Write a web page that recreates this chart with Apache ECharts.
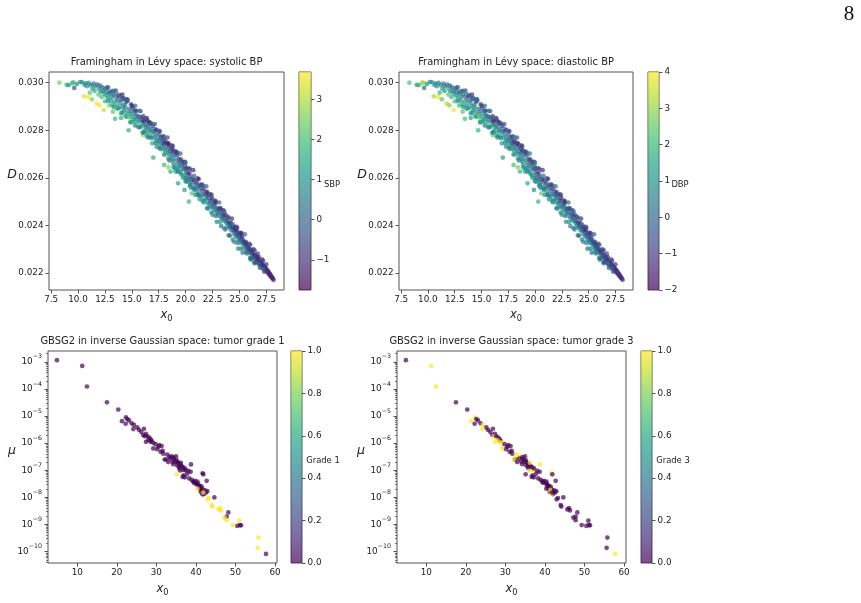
<!DOCTYPE html>
<html>
<head>
<meta charset="utf-8">
<title>Framingham / GBSG2 latent space</title>
<script src="https://cdn.jsdelivr.net/npm/echarts@6/dist/echarts.min.js"></script>
<style>
  html, body { margin: 0; padding: 0; background: #fff; }
  #chart { width: 861px; height: 603px; }
</style>
</head>
<body>
<div id="chart"></div>
<script>
// Framingham in Lévy space: x0, D, and the two colour covariates
// core of the band, then its upper and lower edge
const framX0 = [
  8.27, 8.95, 9.15, 9.45, 9.55, 9.65, 9.9, 10.2, 10.35, 10.6,
  10.55, 10.7, 10.85, 10.95, 11.0, 11.1, 11.2, 11.3, 11.35, 11.45, 11.55, 11.6, 11.75, 11.8, 11.9, 11.95, 12.0, 12.05, 12.1, 12.2,
  12.25, 12.3, 12.4, 12.45, 12.55, 12.6, 12.7, 12.8, 12.9, 13.0, 13.05, 13.15, 13.25, 13.3, 13.4, 13.45, 13.55, 13.6, 13.7, 13.8, 13.85, 13.95, 14.0, 14.05, 14.15,
  14.2, 14.25, 14.35, 14.4, 14.5, 14.55, 14.6, 14.7, 14.75, 14.8, 14.85, 14.95, 15.0, 15.1, 15.15, 15.25, 15.3, 15.4, 15.45, 15.55, 15.6, 15.7, 15.8, 15.85, 15.95, 16.0, 16.05, 16.1,
  16.15, 16.2, 16.3, 16.35, 16.4, 16.45, 16.5, 16.6, 16.65, 16.7, 16.75, 16.8, 16.9, 16.95, 17.0, 17.05, 17.1, 17.2, 17.25, 17.3, 17.4, 17.45, 17.5, 17.6, 17.65, 17.7, 17.8, 17.85, 17.9, 17.95, 18.0, 18.05, 18.1,
  18.15, 18.2, 18.3, 18.35, 18.4, 18.45, 18.5, 18.55, 18.6, 18.65, 18.7, 18.75, 18.8, 18.85, 18.9, 18.95, 19.0, 19.05, 19.1, 19.2, 19.25, 19.3, 19.4, 19.45, 19.5, 19.55, 19.65, 19.7, 19.75, 19.8, 19.85, 19.9, 19.95, 20.0, 20.05, 19.3, 19.9, 18.0, 19.07,
  20.1, 20.15, 20.2, 20.25, 20.3, 20.35, 20.4, 20.45, 20.5, 20.55, 20.6, 20.65, 20.7, 20.8, 20.85, 20.9, 21.0, 21.05, 21.1, 21.2, 21.25, 21.3, 21.4, 21.45, 21.5, 21.6, 21.65, 21.7, 21.8, 21.85, 21.9, 22.0, 22.05,
  22.1, 22.15, 22.2, 22.3, 22.35, 22.4, 22.45, 22.5, 22.6, 22.65, 22.7, 22.8, 22.85, 22.9, 23.0, 23.05, 23.1, 23.2, 23.25, 23.3, 23.4, 23.45, 23.5, 23.6, 23.65, 23.7, 23.8, 23.85, 23.9, 24.0, 24.05, 24.1,
  24.15, 24.2, 24.25, 24.3, 24.4, 24.45, 24.5, 24.55, 24.6, 24.65, 24.7, 24.75, 24.8, 24.85, 24.9, 24.95, 25.0, 25.05, 25.1, 25.15, 25.2, 25.25, 25.3, 25.35, 25.4, 25.45, 25.5, 25.55, 25.6, 25.65, 25.7, 25.75, 25.8, 25.85, 25.9, 25.95, 26.0,
  26.05, 26.1, 26.15, 26.2, 26.25, 26.3, 26.35, 26.4, 26.45, 26.5, 26.55, 26.6, 26.65, 26.7, 26.75, 26.8, 26.85, 26.9, 26.95, 27.0, 27.05, 27.1, 27.15, 27.2, 27.25, 27.3, 27.35, 27.4, 27.45, 27.5, 27.55, 27.6, 27.65, 27.7, 27.75, 27.8, 27.85, 27.9, 27.95, 28.0, 28.05, 28.1, 28.18,
  12.68, 12.79, 13.13, 13.23, 13.50, 13.57, 13.86, 14.12, 14.21, 14.48, 14.59, 14.93, 15.03, 15.31, 15.40, 15.72, 15.81, 16.06, 16.33, 16.39, 16.70, 16.78, 17.13, 17.22, 17.52,
  17.60, 17.89, 18.02, 18.32, 18.40, 18.72, 18.80, 19.11, 19.22, 19.51, 19.58, 19.93, 20.00, 20.31, 20.40, 20.71, 20.80, 21.12, 21.21, 21.50, 21.60, 21.92, 22.01, 22.29, 22.41,
  22.71, 22.79, 23.12, 23.20, 23.51, 23.59, 23.92, 24.00, 24.30, 24.39, 24.71, 24.79, 25.11, 25.20, 25.51, 25.60, 25.91, 26.01, 26.31, 26.40, 26.70, 26.80, 27.11, 27.20, 27.50,
  12.51, 12.79, 12.92, 13.20, 13.31, 13.59, 13.70, 13.99, 14.12, 14.40, 14.50, 14.79, 14.90, 15.19, 15.31, 15.60, 15.71, 15.99, 16.10, 16.40, 16.51, 16.80, 16.90, 17.19, 17.31,
  17.59, 17.70, 18.00, 18.11, 18.40, 18.50, 18.80, 18.90, 19.20, 19.31, 19.59, 19.70, 20.00, 20.11, 20.40, 20.50, 20.80, 20.91, 21.19, 21.30, 21.60, 21.70, 22.00, 22.10, 22.40,
  22.50, 22.80, 22.90, 23.20, 23.30, 23.60, 23.70, 24.00, 24.11, 24.39, 24.50, 24.80, 24.90, 25.20, 25.30, 25.59, 25.71, 25.99, 26.10, 26.40, 26.50, 26.80, 26.90, 27.19, 27.31
];
const framD = [
  0.03000, 0.02991, 0.02990, 0.02998, 0.03001, 0.02978, 0.02995, 0.03003, 0.03002, 0.02990,
  0.02943, 0.02997, 0.02985, 0.02940, 0.02999, 0.02958, 0.02990, 0.02930, 0.02975, 0.02996, 0.02965, 0.02984, 0.02912, 0.02992, 0.02950, 0.02975, 0.02905, 0.02988, 0.02962, 0.02940,
  0.02980, 0.02965, 0.02885, 0.02955, 0.02975, 0.02945, 0.02960, 0.02935, 0.02952, 0.02962, 0.02925, 0.02940, 0.02878, 0.02950, 0.02920, 0.02848, 0.02938, 0.02905, 0.02925, 0.02943, 0.02895, 0.02915, 0.02852, 0.02930, 0.02900,
  0.02935, 0.02885, 0.02908, 0.02895, 0.02920, 0.02875, 0.02925, 0.02800, 0.02890, 0.02868, 0.02835, 0.02880, 0.02858, 0.02895, 0.02845, 0.02870, 0.02883, 0.02850, 0.02862, 0.02835, 0.02858, 0.02842, 0.02855, 0.02815, 0.02832, 0.02845, 0.02780, 0.02820,
  0.02838, 0.02800, 0.02825, 0.02810, 0.02842, 0.02790, 0.02815, 0.02835, 0.02798, 0.02775, 0.02830, 0.02805, 0.02790, 0.02818, 0.02685, 0.02770, 0.02795, 0.02780, 0.02758, 0.02800, 0.02765, 0.02748, 0.02782, 0.02755, 0.02735, 0.02770, 0.02745, 0.02760, 0.02725, 0.02750, 0.02740, 0.02715, 0.02755,
  0.02730, 0.02705, 0.02745, 0.02720, 0.02644, 0.02700, 0.02735, 0.02712, 0.02626, 0.02690, 0.02725, 0.02705, 0.02680, 0.02715, 0.02655, 0.02695, 0.02710, 0.02640, 0.02675, 0.02695, 0.02660, 0.02635, 0.02680, 0.02650, 0.02670, 0.02625, 0.02655, 0.02640, 0.02600, 0.02665, 0.02610, 0.02635, 0.02650, 0.02598, 0.02625, 0.02577, 0.02549, 0.02654, 0.02626,
  0.02640, 0.02600, 0.02615, 0.02585, 0.02500, 0.02620, 0.02595, 0.02570, 0.02605, 0.02580, 0.02535, 0.02592, 0.02560, 0.02590, 0.02550, 0.02575, 0.02558, 0.02580, 0.02540, 0.02565, 0.02530, 0.02555, 0.02570, 0.02520, 0.02545, 0.02530, 0.02555, 0.02505, 0.02528, 0.02542, 0.02510, 0.02525, 0.02495,
  0.02515, 0.02530, 0.02490, 0.02505, 0.02480, 0.02500, 0.02515, 0.02475, 0.02490, 0.02465, 0.02482, 0.02495, 0.02458, 0.02472, 0.02450, 0.02468, 0.02440, 0.02455, 0.02470, 0.02432, 0.02448, 0.02425, 0.02440, 0.02418, 0.02432, 0.02445, 0.02410, 0.02422, 0.02398, 0.02412, 0.02390, 0.02405,
  0.02395, 0.02410, 0.02378, 0.02392, 0.02380, 0.02395, 0.02365, 0.02378, 0.02385, 0.02355, 0.02368, 0.02380, 0.02352, 0.02362, 0.02340, 0.02358, 0.02368, 0.02335, 0.02348, 0.02325, 0.02340, 0.02352, 0.02328, 0.02338, 0.02318, 0.02330, 0.02322, 0.02305, 0.02325, 0.02310, 0.02300, 0.02315, 0.02295, 0.02305, 0.02290, 0.02300, 0.02285,
  0.02255, 0.02295, 0.02278, 0.02288, 0.02270, 0.02282, 0.02265, 0.02240, 0.02275, 0.02260, 0.02268, 0.02250, 0.02262, 0.02245, 0.02255, 0.02240, 0.02250, 0.02235, 0.02245, 0.02232, 0.02240, 0.02226, 0.02235, 0.02222, 0.02230, 0.02218, 0.02225, 0.02212, 0.02220, 0.02208, 0.02214, 0.02202, 0.02208, 0.02197, 0.02202, 0.02192, 0.02195, 0.02186, 0.02188, 0.02182, 0.02180, 0.02176, 0.02171,
  0.02979, 0.02980, 0.02963, 0.02966, 0.02967, 0.02953, 0.02948, 0.02950, 0.02930, 0.02931, 0.02930, 0.02909, 0.02903, 0.02903, 0.02882, 0.02882, 0.02880, 0.02858, 0.02851, 0.02850, 0.02829, 0.02828, 0.02826, 0.02804, 0.02797,
  0.02795, 0.02774, 0.02772, 0.02769, 0.02745, 0.02736, 0.02733, 0.02710, 0.02706, 0.02702, 0.02677, 0.02667, 0.02663, 0.02640, 0.02637, 0.02632, 0.02608, 0.02598, 0.02595, 0.02572, 0.02568, 0.02564, 0.02540, 0.02531, 0.02528,
  0.02504, 0.02501, 0.02496, 0.02472, 0.02463, 0.02459, 0.02436, 0.02432, 0.02428, 0.02404, 0.02394, 0.02391, 0.02368, 0.02366, 0.02362, 0.02331, 0.02322, 0.02318, 0.02299, 0.02295, 0.02281, 0.02266, 0.02257, 0.02251, 0.02236,
  0.02922, 0.02922, 0.02904, 0.02908, 0.02898, 0.02892, 0.02891, 0.02872, 0.02874, 0.02861, 0.02856, 0.02854, 0.02833, 0.02835, 0.02820, 0.02815, 0.02812, 0.02790, 0.02791, 0.02776, 0.02770, 0.02767, 0.02745, 0.02746, 0.02731,
  0.02724, 0.02721, 0.02698, 0.02698, 0.02681, 0.02673, 0.02668, 0.02644, 0.02642, 0.02625, 0.02616, 0.02610, 0.02585, 0.02584, 0.02567, 0.02558, 0.02553, 0.02528, 0.02527, 0.02510, 0.02501, 0.02496, 0.02472, 0.02471, 0.02454,
  0.02445, 0.02440, 0.02415, 0.02414, 0.02397, 0.02388, 0.02383, 0.02358, 0.02357, 0.02340, 0.02331, 0.02326, 0.02302, 0.02302, 0.02285, 0.02288, 0.02282, 0.02263, 0.02260, 0.02246, 0.02244, 0.02238, 0.02222, 0.02217, 0.02205
];
const framSBP = [
  2.6, 1.5, 1.3, 2.1, 1.9, -0.4, 1.0, 1.3, 0.9, 1.6,
  3.5, 0.4, 1.1, 3.6, 0.8, 2.2, 0.6, 2.6, 1.4, 0.2, 1.8, 0.9, 3.5, -0.2, 2.3, 1.0, 3.6, 0.5, 1.2, 2.0,
  0.1, 0.7, 3.3, 1.1, -0.3, 1.5, 0.6, 1.0, 0.3, -0.6, 1.3, 0.8, 2.3, -0.2, 1.1, 1.9, 0.4, 1.4, 0.2, -0.9, 0.9, 0.6, 1.8, -0.5, 0.7,
  -1.2, 1.2, 0.3, 0.9, -0.4, 1.0, -0.8, 1.8, 0.5, 1.3, 2.4, 0.1, 0.8, -0.5, 1.1, 0.4, -0.1, 0.7, 0.2, 1.2, 0.5, 0.9, -0.3, 1.6, 0.6, -0.8, 2.9, 0.8,
  -1.3, 1.4, 0.3, 0.9, -1.4, 1.5, 0.2, -1.2, 0.7, 1.2, -1.0, 0.4, 0.9, -0.6, 1.7, 1.0, 0.1, 0.5, 1.3, -0.7, 0.6, 1.1, -0.2, 0.4, 1.4, -0.5, 0.8, -0.3, 1.2, 0.3, -0.9, 0.9, -1.1,
  0.5, 1.4, -1.3, 0.2, 2.6, 0.8, -1.5, -0.2, 1.6, 1.0, -1.2, 0.1, 0.7, -0.8, 1.3, 0.4, -1.0, 1.5, 0.6, -0.6, 0.3, 1.1, -0.4, 0.5, -0.9, 1.2, 0.0, 0.6, 1.6, -1.1, 1.0, 0.2, -0.7, 0.9, 0.1, 1.5, 1.3, 2.0, 1.0,
  -0.9, 0.5, -0.3, 0.9, 1.9, -1.2, 0.2, 0.8, -0.6, 0.4, 2.2, -0.2, 0.7, -1.0, 1.1, 0.0, 0.5, -0.8, 0.9, -0.3, 1.2, 0.1, -1.1, 0.8, -0.1, 0.4, -0.9, 1.0, 0.3, -0.6, 0.7, -0.2, 1.1,
  0.2, -1.0, 0.6, -0.3, 0.9, 0.0, -1.2, 0.5, -0.5, 1.0, 0.2, -0.9, 0.7, -0.1, 0.6, -0.6, 1.1, 0.1, -1.1, 0.8, -0.3, 0.4, -0.7, 0.9, 0.0, -1.3, 0.5, -0.4, 1.2, -0.8, 0.6, -0.2,
  0.3, -1.0, 0.9, -0.4, 0.2, -1.2, 0.7, -0.2, -0.9, 1.0, 0.1, -1.3, 0.5, -0.5, 1.1, -0.1, -1.0, 0.6, -0.6, 1.3, 0.0, -1.1, 0.4, -0.4, 0.9, -0.8, 0.2, 1.0, -1.2, -0.2, 0.6, -0.9, 0.3, -0.5, 0.8, -1.0, 0.1,
  1.4, -0.7, 0.4, -1.1, 0.6, -0.4, 0.2, 0.9, -1.3, -0.2, -0.9, 0.5, -0.6, 0.1, -1.2, 0.3, -0.8, -0.1, -1.0, 0.2, -1.3, -0.4, -0.9, 0.0, -1.1, -0.5, -1.4, -0.2, -1.0, -0.6, -1.3, -0.8, -1.1, -0.4, -1.2, -0.9, -1.4, -0.7, -1.2, -1.0, -1.3, -1.1, -1.2,
  0.6, -0.3, 0.9, 0.2, -0.8, 0.5, -0.2, -1.1, 0.4, -0.6, 0.1, -0.9, -1.3, 0.2, -0.9, -0.2, 0.5, -1.1, 0.1, -0.6, -1.4, 0.3, -0.4, -1.0, 0.6,
  -0.7, -1.2, 0.0, -0.3, -1.5, 0.4, -0.8, -0.1, -1.1, 0.2, -0.6, -1.3, 0.5, -0.9, -0.2, -1.0, 0.3, -0.5, -1.4, 0.1, -0.7, -0.2, -1.2, 0.4, -0.9,
  -0.4, -1.1, 0.2, -0.6, -1.3, 0.0, -0.8, -0.3, -1.0, 0.3, -1.2, -0.5, -0.1, -1.4, 0.1, -0.7, -1.0, -0.3, -1.2, -0.6, -0.9, -1.3, -0.4, -1.1, -0.8,
  1.9, 1.2, 2.4, 1.5, 0.8, 2.0, 1.1, 1.6, 0.7, 1.8, 1.3, 2.2, 0.9, 1.5, 0.3, 1.1, 0.6, 1.8, 0.0, 1.2, 0.8, 0.4, 1.6, 0.7, 1.0,
  -0.2, 1.3, 0.5, 1.9, 0.8, 0.2, 1.1, 0.6, 1.4, 0.3, 0.9, 1.7, 0.1, 1.0, 0.6, 1.2, 0.4, 0.8, -0.1, 1.3, 0.7, 1.5, 0.2, 0.9, 0.5,
  1.1, 0.0, 0.7, 1.2, 0.3, 0.8, 0.4, 1.0, -0.3, 0.6, 0.9, 0.2, 0.7, 0.1, 0.5, 0.8, 0.0, 0.2, -0.4, 0.5, -0.6, 0.1, -0.3, 0.4, -0.5
];
const framDBP = [
  2.3, 1.4, 1.6, 2.9, 3.1, 0.2, 0.9, 1.2, 1.0, 1.5,
  3.2, 0.6, 1.0, 3.9, 0.5, 2.0, 0.8, 2.4, 1.6, 0.4, 1.3, 0.5, 3.3, 0.1, 2.6, 1.2, 2.9, 0.3, 1.5, 1.8,
  -0.2, 0.9, 3.9, 0.8, -0.5, 1.7, 0.2, 1.3, 0.6, -0.4, 1.1, 0.7, 2.4, 0.3, 1.4, 2.1, 0.1, 1.0, 0.5, -1.0, 1.2, 0.4, 1.5, -0.3, 0.9,
  -1.1, 0.8, 0.5, 1.3, -0.6, 0.7, -0.9, 1.9, 0.2, 1.6, 2.2, 0.4, 1.0, -0.2, 0.9, 0.6, -0.4, 0.8, 0.0, 1.4, 0.3, 1.1, -0.1, 1.3, 0.9, -0.6, 2.6, 0.7,
  -1.5, 1.5, 0.1, 1.2, -1.6, 1.8, 0.5, -1.3, 0.4, 1.0, -0.8, 0.6, 0.7, -0.9, 1.5, 1.3, -0.1, 0.8, 1.1, -0.5, 0.3, 1.4, 0.1, 0.6, 1.2, -0.7, 0.5, -0.1, 1.4, 0.0, -0.7, 1.1, -1.3,
  0.3, 1.6, -1.2, 0.4, 2.7, 0.6, -1.4, 0.1, 1.9, 0.8, -1.0, -0.2, 1.0, -1.1, 1.2, 0.2, -0.8, 1.7, 0.4, -0.4, 0.6, 0.9, -0.6, 0.3, -1.0, 1.5, 0.2, 0.4, 1.8, -1.3, 1.1, -0.1, -0.5, 1.2, 0.3, 1.7, 1.1, 2.2, 1.2,
  -0.7, 0.3, -0.5, 1.1, 2.0, -1.0, 0.0, 1.0, -0.8, 0.6, 2.5, 0.1, 0.5, -1.2, 0.9, 0.3, 0.2, -0.6, 1.2, -0.5, 1.0, 0.4, -0.9, 0.6, 0.2, 0.1, -1.1, 1.3, 0.5, -0.4, 0.4, -0.5, 1.0,
  0.4, -0.8, 0.8, -0.1, 0.7, -0.3, -1.3, 0.6, -0.3, 1.2, 0.0, -1.1, 0.9, 0.2, 0.3, -0.8, 1.4, 0.3, -0.9, 0.6, -0.5, 0.7, -0.4, 0.8, -0.2, -1.2, 0.3, -0.1, 1.0, -1.0, 0.9, 0.0,
  0.1, -1.2, 1.1, -0.2, 0.4, -1.0, 0.5, -0.5, -0.7, 1.2, 0.3, -1.5, 0.3, -0.3, 0.9, 0.2, -1.2, 0.8, -0.4, 1.0, -0.2, -0.9, 0.6, -0.6, 1.1, -0.6, 0.0, 1.3, -1.0, 0.1, 0.4, -1.1, 0.5, -0.3, 0.6, -0.8, 0.3,
  1.6, -0.9, 0.2, -1.3, 0.8, -0.2, 0.0, 1.0, -1.1, -0.4, -0.7, 0.7, -0.8, 0.3, -1.0, 0.1, -1.1, 0.2, -0.8, 0.0, -1.4, -0.2, -1.1, 0.2, -0.9, -0.7, -1.2, 0.1, -1.2, -0.4, -1.5, -0.6, -1.3, -0.6, -1.0, -1.1, -1.3, -0.5, -1.4, -0.8, -1.2, -1.3, -1.1,
  0.4, -0.1, 1.1, 0.0, -0.6, 0.7, -0.4, -1.0, 0.6, -0.4, 0.3, -1.1, -1.1, 0.4, -0.7, -0.4, 0.6, -1.3, 0.3, -0.4, -1.2, 0.1, -0.6, -0.8, 0.8,
  -0.9, -1.0, 0.2, -0.5, -1.3, 0.2, -1.0, 0.1, -0.9, 0.4, -0.8, -1.1, 0.7, -0.7, -0.4, -1.2, 0.5, -0.3, -1.2, 0.3, -0.9, 0.0, -1.0, 0.2, -1.1,
  -0.2, -1.3, 0.4, -0.4, -1.1, 0.2, -1.0, -0.1, -1.2, 0.1, -1.0, -0.7, 0.1, -1.2, -0.1, -0.5, -1.2, -0.1, -1.0, -0.8, -0.7, -1.1, -0.6, -0.9, -1.0,
  2.1, 1.0, 2.2, 1.7, 1.0, 1.8, 1.3, 1.4, 0.9, 2.0, 1.1, 2.4, 1.1, 1.3, 0.5, 0.9, 0.8, 1.6, 0.2, 1.4, 0.6, 0.6, 1.4, 0.9, 0.8,
  0.0, 1.5, 0.3, 1.7, 1.0, 0.4, 0.9, 0.8, 1.2, 0.5, 0.7, 1.5, 0.3, 1.2, 0.4, 1.0, 0.6, 1.0, 0.1, 1.1, 0.9, 1.3, 0.4, 0.7, 0.7,
  0.9, 0.2, 0.9, 1.0, 0.5, 0.6, 0.6, 0.8, -0.1, 0.8, 0.7, 0.4, 0.5, 0.3, 0.3, 1.0, 0.2, 0.4, -0.2, 0.3, -0.8, 0.3, -0.5, 0.2, -0.7
];

// GBSG2 in inverse Gaussian space: x0, mu, tumour grade (1, 2 or 3)
const gbsgX0 = [
  4.86, 11.26, 12.45, 17.5, 20.37, 21.3, 22.31, 22.65, 23.07, 22.23,
  23.74, 24.33, 25.18, 24.17, 26.86, 26.69, 27.37, 27.04, 27.71, 28.21,
  28.55, 27.96, 28.8, 27.37, 28.55, 29.22, 29.22, 30.74, 31.33, 30.49,
  31.59, 31.08, 31.75, 32.77, 33.27, 32.43, 32.1, 33.86, 34.28, 34.96,
  34.03, 34.7, 35.13, 35.55, 35.97, 35.13, 36.39, 35.8, 36.0, 36.81,
  37.4, 37.23, 38.08, 38.67, 38.75, 36.64, 37.23, 41.7, 41.87, 42.72,
  38.92, 39.34, 39.76, 40.0, 40.19, 40.61, 41.03, 41.45, 41.7, 41.2,
  40.69, 42.04, 41.65, 42.55, 42.88, 44.66, 48.2, 47.77, 50.47, 51.15,
  51.4, 57.72, 33.5, 34.5, 35.3, 36.2, 36.7, 34.2, 35.7, 37.8,
  39.5, 40.9, 41.3, 42.3, 40.4, 29.8, 30.2, 26.2, 25.6, 33.0,
  38.3, 36.9,
  35.13, 40.36, 41.87, 42.97, 43.3, 43.98, 44.15, 45.67,
  46.09, 46.34, 47.18, 47.77, 49.29, 50.98, 55.8, 55.6
];
const gbsgMu = [
  1.15e-3, 7.1e-4, 1.23e-4, 3.2e-5, 1.74e-5, 6.5e-6, 8.9e-6, 7.8e-6, 6.9e-6, 5.2e-6,
  5.4e-6, 4.7e-6, 3.8e-6, 3.3e-6, 3.4e-6, 2.0e-6, 2.2e-6, 1.8e-6, 1.8e-6, 1.6e-6,
  1.37e-6, 1.3e-6, 1.22e-6, 1.12e-6, 1.12e-6, 1.03e-6, 6.4e-7, 8.5e-7, 7.8e-7, 7.4e-7,
  5.2e-7, 4.8e-7, 4.1e-7, 3.8e-7, 3.1e-7, 2.5e-7, 2.5e-7, 3.3e-7, 3.0e-7, 3.3e-7,
  2.1e-7, 2.1e-7, 2.4e-7, 1.9e-7, 1.65e-7, 1.55e-7, 1.44e-7, 1.18e-7, 9.8e-8, 1.03e-7,
  1.0e-7, 1.18e-7, 9.6e-8, 8.8e-8, 1.65e-7, 5.7e-8, 5.5e-8, 7.7e-8, 7.1e-8, 4.1e-8,
  4.4e-8, 3.8e-8, 4.1e-8, 3.1e-8, 3.3e-8, 3.0e-8, 2.6e-8, 2.5e-8, 2.0e-8, 1.6e-8,
  2.6e-8, 1.33e-8, 1.3e-8, 1.5e-8, 1.7e-8, 1.0e-8, 2.8e-9, 1.95e-9, 8.9e-10, 9.5e-10,
  9.3e-10, 8.2e-11, 2.7e-7, 2.6e-7, 2.0e-7, 1.9e-7, 1.3e-7, 1.7e-7, 1.35e-7, 7.5e-8,
  3.5e-8, 2.2e-8, 1.9e-8, 1.8e-8, 3.8e-8, 9.2e-7, 6.0e-7, 2.6e-6, 3.1e-6, 2.0e-7,
  5.0e-8, 6.5e-8,
  7.1e-8, 2.1e-8, 1.5e-8, 8.5e-9, 9.5e-9, 5.2e-9, 4.6e-9, 3.6e-9,
  4.0e-9, 3.3e-9, 1.8e-9, 1.45e-9, 9.5e-10, 1.38e-9, 3.3e-10, 1.38e-10
];
const gbsgGrade = [
  2, 3, 3, 2, 2, 3, 3, 2, 2, 2,
  2, 3, 2, 3, 2, 2, 2, 3, 2, 2,
  2, 3, 2, 3, 3, 3, 3, 2, 2, 2,
  2, 2, 2, 3, 3, 2, 3, 3, 2, 2,
  2, 2, 2, 2, 2, 2, 2, 2, 3, 3,
  3, 2, 2, 2, 3, 2, 2, 3, 2, 2,
  2, 2, 2, 3, 2, 2, 2, 2, 2, 2,
  2, 2, 3, 2, 2, 2, 2, 2, 2, 2,
  2, 3, 2, 2, 2, 3, 2, 2, 2, 2,
  2, 2, 3, 2, 2, 2, 2, 2, 2, 2,
  2, 2,
  1, 1, 1, 1, 1, 1, 1, 1,
  1, 1, 1, 1, 1, 1, 1, 1
];

// tick labels
const framXTicks = [7.5, 10, 12.5, 15, 17.5, 20, 22.5, 25, 27.5];
const framDTicks = [0.022, 0.024, 0.026, 0.028, 0.030];
const gbsgXTicks = [10, 20, 30, 40, 50, 60];
const gbsgMuTicks = [1e-10, 1e-9, 1e-8, 1e-7, 1e-6, 1e-5, 1e-4, 1e-3];
const sbpTicks = [-1, 0, 1, 2, 3];
const dbpTicks = [-2, -1, 0, 1, 2, 3, 4];
const gradeTicks = [0, 0.2, 0.4, 0.6, 0.8, 1.0];

const VIRIDIS = ['#440154', '#482475', '#414487', '#355f8d', '#2a788e', '#21918c',
  '#22a884', '#44bf70', '#7ad151', '#bddf26', '#fde725'];
const FONT = 'DejaVu Sans';
const INK = '#222';
const SPINE = '#555';
const TICK_FS = 8.8;

const minus = v => String(v).replace('-', '\u2212');

// log-axis minor ticks (2..9 x 10^k)
const muMinor = [];
for (let e = -11; e <= -3; e++) {
  for (let m = 2; m <= 9; m++) muMinor.push(m * Math.pow(10, e));
}

const framPts = col => framX0.map((x, i) => [x, framD[i], col[i]]);
const gbsgPts = grade => gbsgX0.map((x, i) => [x, gbsgMu[i], gbsgGrade[i] === grade ? 1 : 0]);

const xName = {
  name: '{i|x}{s|0}',
  nameLocation: 'middle',
  nameGap: 17,
  nameTextStyle: {
    rich: {
      i: { fontFamily: FONT, fontStyle: 'italic', fontSize: 11.5, lineHeight: 16, color: INK },
      s: { fontFamily: FONT, fontSize: 8.2, lineHeight: 8, verticalAlign: 'bottom', color: INK }
    }
  }
};

const panels = [
  {
    title: 'Framingham in Lévy space: systolic BP',
    box: [49, 72, 235, 218], bar: [299, 12],
    data: framPts(framSBP), range: [-1.75, 3.68], ticks: sbpTicks, label: 'SBP', fmt: v => minus(v),
    x: { min: 7.3, max: 29.15, ticks: framXTicks, fmt: v => v.toFixed(1) },
    y: { min: 0.02128, max: 0.03045, ticks: framDTicks, fmt: v => v.toFixed(3), name: 'D' }
  },
  {
    title: 'Framingham in Lévy space: diastolic BP',
    box: [399, 72, 234, 218], bar: [648, 11],
    data: framPts(framDBP), range: [-2, 4], ticks: dbpTicks, label: 'DBP', fmt: v => minus(v),
    x: { min: 7.3, max: 29.15, ticks: framXTicks, fmt: v => v.toFixed(1) },
    y: { min: 0.02128, max: 0.03045, ticks: framDTicks, fmt: v => v.toFixed(3), name: 'D' }
  },
  {
    title: 'GBSG2 in inverse Gaussian space: tumor grade 1',
    box: [48, 351, 229, 212], bar: [291, 11],
    data: gbsgPts(1), range: [0, 1], ticks: gradeTicks, label: 'Grade 1', fmt: v => v.toFixed(1),
    x: { min: 2.6, max: 60.5, ticks: gbsgXTicks, fmt: v => String(v) },
    y: { log: true, min: Math.pow(10, -10.42), max: Math.pow(10, -2.6), ticks: gbsgMuTicks, name: '\u03bc' }
  },
  {
    title: 'GBSG2 in inverse Gaussian space: tumor grade 3',
    box: [397, 351, 229, 212], bar: [641, 11],
    data: gbsgPts(3), range: [0, 1], ticks: gradeTicks, label: 'Grade 3', fmt: v => v.toFixed(1),
    x: { min: 2.6, max: 60.5, ticks: gbsgXTicks, fmt: v => String(v) },
    y: { log: true, min: Math.pow(10, -10.42), max: Math.pow(10, -2.6), ticks: gbsgMuTicks, name: '\u03bc' }
  }
];

const option = {
  animation: false,
  textStyle: { fontFamily: FONT },
  grid: [], xAxis: [], yAxis: [], series: [], visualMap: [], graphic: []
};

const tickStyle = { lineStyle: { color: SPINE, width: 1 } };
const labelStyle = { fontFamily: FONT, fontSize: TICK_FS, color: INK };
const gradStops = VIRIDIS.map((c, i) => ({ offset: i / (VIRIDIS.length - 1), color: c }));

panels.forEach((p, k) => {
  const [left, top, width, height] = p.box;
  const main = 2 * k, bar = 2 * k + 1;

  option.grid.push(
    { left, top, width, height, show: true, borderColor: SPINE, borderWidth: 1, outerBoundsMode: 'none' },
    { left: p.bar[0], top, width: p.bar[1], height, show: true, borderColor: SPINE, borderWidth: 1, outerBoundsMode: 'none' }
  );

  // main scatter axes
  option.xAxis.push(Object.assign({
    gridIndex: main, type: 'value', min: p.x.min, max: p.x.max,
    axisLine: { show: false, onZero: false },
    axisTick: Object.assign({ length: 3.5, customValues: p.x.ticks }, tickStyle),
    axisLabel: Object.assign({ customValues: p.x.ticks, formatter: p.x.fmt, margin: 5.5 }, labelStyle),
    splitLine: { show: false },
    nameMoveOverlap: false
  }, xName, k >= 2 ? { nameGap: 18 } : {}));

  const yMain = {
    gridIndex: main, min: p.y.min, max: p.y.max,
    axisLine: { show: false, onZero: false },
    axisTick: Object.assign({ length: 3.5, customValues: p.y.ticks }, tickStyle),
    splitLine: { show: false },
    name: p.y.name, nameLocation: 'middle', nameRotate: 0, nameGap: 32, nameMoveOverlap: false,
    nameTextStyle: {
      fontFamily: FONT, fontStyle: 'italic', fontSize: 12.5, color: INK,
      align: 'right', verticalAlign: 'bottom', lineHeight: 13
    }
  };
  if (p.y.log) {
    yMain.type = 'log';
    yMain.logBase = 10;
    yMain.axisLabel = Object.assign({
      customValues: p.y.ticks, margin: 6,
      formatter: v => '{b|10}{e|' + minus(Math.round(Math.log10(v))) + '}',
      rich: {
        b: { fontFamily: FONT, fontSize: TICK_FS, lineHeight: 16, color: INK },
        e: { fontFamily: FONT, fontSize: 6.3, lineHeight: 8, verticalAlign: 'top', color: INK }
      }
    }, labelStyle);
  } else {
    yMain.type = 'value';
    yMain.axisLabel = Object.assign({ customValues: p.y.ticks, formatter: p.y.fmt, margin: 5.5 }, labelStyle);
  }
  option.yAxis.push(yMain);

  // colorbar axes
  option.xAxis.push({ gridIndex: bar, type: 'value', min: 0, max: 1, show: false });
  option.yAxis.push({
    gridIndex: bar, type: 'value', position: 'right', min: p.range[0], max: p.range[1],
    axisLine: { show: false, onZero: false },
    axisTick: Object.assign({ length: 3.5, customValues: p.ticks }, tickStyle),
    axisLabel: Object.assign({ customValues: p.ticks, formatter: p.fmt, margin: 5.5 }, labelStyle),
    splitLine: { show: false },
    name: p.label, nameLocation: 'middle', nameRotate: 0, nameGap: 21, nameMoveOverlap: false,
    nameTextStyle: { fontFamily: FONT, fontSize: 8.4, color: INK, align: 'center', verticalAlign: 'top' }
  });

  option.series.push({
    type: 'scatter', xAxisIndex: main, yAxisIndex: main,
    data: p.data, symbolSize: 4.7, silent: true,
    itemStyle: { opacity: 0.7 }
  });
  option.series.push({
    type: 'custom', xAxisIndex: bar, yAxisIndex: bar, silent: true,
    data: [[0, p.range[0], 1, p.range[1]]],
    encode: { x: [0, 2], y: [1, 3] },
    renderItem: (params, api) => {
      const a = api.coord([api.value(0), api.value(1)]);
      const b = api.coord([api.value(2), api.value(3)]);
      return {
        type: 'rect',
        shape: { x: a[0], y: b[1], width: b[0] - a[0], height: a[1] - b[1] },
        style: { fill: new echarts.graphic.LinearGradient(0, 1, 0, 0, gradStops), opacity: 0.7 }
      };
    }
  });

  option.visualMap.push({
    type: 'continuous', show: false, seriesIndex: main, dimension: 2,
    min: p.range[0], max: p.range[1], inRange: { color: VIRIDIS }
  });

  option.graphic.push({
    type: 'text', x: left + width / 2, y: top - 10,
    style: { text: p.title, font: '9.9px "DejaVu Sans"', fill: INK, align: 'center', verticalAlign: 'middle' }
  });
});

// minor ticks on the two log axes
[2, 3].forEach(k => {
  option.yAxis.push({
    gridIndex: 2 * k, type: 'log', logBase: 10, position: 'left',
    min: Math.pow(10, -10.42), max: Math.pow(10, -2.6),
    axisLine: { show: false, onZero: false },
    axisLabel: { show: false },
    axisTick: { length: 2, customValues: muMinor, lineStyle: { color: SPINE, width: 0.8 } },
    splitLine: { show: false }
  });
});

// page number of the source document
option.graphic.push({
  type: 'text', x: 849, y: 14,
  style: { text: '8', font: '21px "Liberation Serif"', fill: '#111', align: 'center', verticalAlign: 'middle' }
});

const chart = echarts.init(document.getElementById('chart'));
chart.setOption(option);
</script>
</body>
</html>
